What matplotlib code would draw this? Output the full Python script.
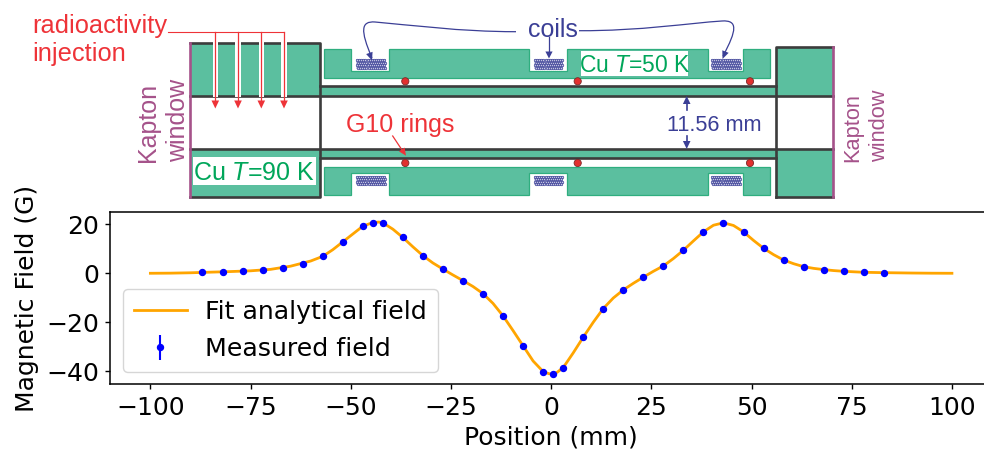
import numpy as np
import matplotlib
matplotlib.use("Agg")
import matplotlib.pyplot as plt
from matplotlib.patches import Rectangle, Polygon, PathPatch, Circle
from matplotlib.path import Path

plt.rcParams['mathtext.fontset'] = 'custom'
plt.rcParams['mathtext.it'] = 'Liberation Sans:italic'
plt.rcParams['mathtext.rm'] = 'Liberation Sans'

# Measured field
meas_x = [-87, -82, -77, -72, -67, -62, -57, -52, -47, -44.5, -42, -37, -32, -27, -22, -17, -12, -7, -2, 0.5,
          3, 8, 13, 18, 23, 28, 33, 38, 43, 48, 53, 58, 63, 68, 73, 78, 83]
meas_y = [0.4, 0.54, 0.82, 1.22, 2.04, 3.67, 6.94, 12.8, 19.2, 20.7, 20.4, 14.6, 7.2, 1.63, -3.0, -8.3, -17.4, -29.6, -40.2, -41.1,
          -38.5, -26.1, -14.4, -6.8, -1.63, 3.0, 9.4, 16.9, 20.5, 16.9, 10.2, 5.44, 2.72, 1.5, 0.82, 0.41, 0.27]
meas_err = [0.3] * len(meas_x)

# Fit analytical field
fit_x = [-100, -95, -90, -85, -80, -75, -70, -65, -60, -57, -54.5, -52, -49.5, -47, -44.5, -43, -42, -39.5, -37, -34.5,
         -32, -29.5, -27, -24.5, -22, -19.5, -17, -14.5, -12, -9.5, -7, -4.5, -2, -0.5, 0.5, 1.5, 3, 5.5, 8, 10.5,
         13, 15.5, 18, 20.5, 23, 25.5, 28, 30.5, 33, 35.5, 38, 40.5, 43, 45.5, 48, 50.5, 53, 55.5, 58, 60.5,
         63, 65.5, 68, 70.5, 73, 75.5, 78, 83, 90, 95, 100]
fit_y = [0, 0.05, 0.2, 0.45, 0.7, 1.0, 1.6, 2.9, 5.0, 6.9, 9.6, 12.8, 16, 19.2, 20.7, 20.9, 20.6, 18, 14.6, 10.8,
         7.2, 4.2, 1.7, -0.7, -3, -5.4, -8.3, -12.3, -17.4, -23.4, -29.6, -35.8, -40.1, -41, -41.1, -40.4, -38.5, -32.5, -26.1, -20,
         -14.4, -10.1, -6.8, -4.1, -1.6, 0.8, 3, 6, 9.4, 13.2, 16.9, 19.6, 20.6, 19.5, 16.9, 13.4, 10.2, 7.6, 5.4, 3.9,
         2.7, 2.0, 1.5, 1.1, 0.8, 0.6, 0.4, 0.25, 0.1, 0.03, 0]

W, H = 984, 449
fig = plt.figure(figsize=(W / 100, H / 100), dpi=100)

# ---------------- field plot ----------------
ax = fig.add_axes([110.3 / W, (H - 384.3) / H, (992 - 110.3) / W, (384.3 - 212) / H])
ax.plot(fit_x, fit_y, color='orange', lw=2, label='Fit analytical field', zorder=2)
ax.errorbar(meas_x, meas_y, yerr=meas_err, fmt='o', color='blue', ms=4.3, elinewidth=1.5,
            label='Measured field', zorder=3)
ax.set_xlim(-110, 110)
ax.set_ylim(-45.3, 25)
ax.set_xticks([-100, -75, -50, -25, 0, 25, 50, 75, 100])
ax.set_yticks([-40, -20, 0, 20])
ax.tick_params(labelsize=18, length=3.6, width=1, pad=4.5)
for s in ax.spines.values():
    s.set_linewidth(1.1)
ax.set_xlabel('Position (mm)', fontsize=18, labelpad=4.2)
ax.set_ylabel('Magnetic Field (G)', fontsize=18)
ax.yaxis.set_label_coords(-0.0805, 0.5)
ax.legend(loc='lower left', fontsize=18.2, bbox_to_anchor=(123.3 / W, (H - 371.7) / H),
          bbox_transform=fig.transFigure, borderaxespad=0, borderpad=0.42, handlelength=2.1,
          handletextpad=0.72, labelspacing=0.52, framealpha=0.8)

# ---------------- schematic overlay in pixel space ----------------
sc = fig.add_axes([0, 0, 1, 1], zorder=5)
sc.set_xlim(0, W)
sc.set_ylim(H, 0)
sc.axis('off')
sc.patch.set_alpha(0)

GREEN = '#5BBF9F'
GEDGE = '#2FAE7F'
DARK = '#3C3C3C'
KAPTON = '#A5528A'
RED = '#EE3338'
NAVY = '#3B3F96'
TGREEN = '#00A65A'
FONT = 'Liberation Sans'


def rect(x0, y0, x1, y1, fc, ec='none', lw=0, z=1):
    sc.add_patch(Rectangle((x0, y0), x1 - x0, y1 - y0, fc=fc, ec=ec, lw=lw, zorder=z))


def line(xs, ys, color=DARK, lw=1.9, z=4):
    sc.plot(xs, ys, color=color, lw=lw, zorder=z, solid_capstyle='projecting')


def head(tx, ty, dx, dy, color, size=7, width=3.6, z=7):
    n = np.hypot(dx, dy)
    dx, dy = dx / n, dy / n
    px, py = -dy, dx
    sc.add_patch(Polygon([(tx, ty), (tx - dx * size + px * width, ty - dy * size + py * width),
                          (tx - dx * size - px * width, ty - dy * size - py * width)],
                         fc=color, ec='none', zorder=z))


# end blocks
rect(189.5, 43.3, 319.5, 95.7, GREEN)
rect(189.5, 149, 319.5, 196.7, GREEN)
rect(776, 47.3, 833.3, 95.7, GREEN)
rect(776, 149, 833.3, 196.7, GREEN)

# tube walls
rect(319.5, 86, 776, 95.7, GREEN)
rect(319.5, 149, 776, 158.3, GREEN)

# cold body with notches
notches = [(350.7, 388.7), (529.3, 567.3), (708, 742.7)]
xl, xr = 324, 770
for ytop, ybot, ynotch, from_top in [(49.3, 77.7, 70.7, True), (166.7, 195, 173.3, False)]:
    edge_y = ytop if from_top else ybot
    far_y = ybot if from_top else ytop
    pts = [(xl, far_y), (xl, edge_y)]
    for a, b in notches:
        pts += [(a, edge_y), (a, ynotch), (b, ynotch), (b, edge_y)]
    pts += [(xr, edge_y), (xr, far_y)]
    sc.add_patch(Polygon(pts, closed=True, fc=GREEN, ec=GEDGE, lw=0.9, zorder=2))

# dark outlines
line([189.5, 319.5, 319.5, 189.5], [43.3, 43.3, 196.7, 196.7])
for y in (86, 158.3):
    line([319.5, 776], [y, y])
for y in (95.7, 149):
    line([189.5, 833.3], [y, y])
line([776, 776, 833.3], [196.7, 47.3, 47.3])
line([776, 833.3], [196.7, 196.7])
line([189.5, 189.5], [43.3, 196.7], color=KAPTON, lw=1.9, z=5)
line([833.3, 833.3], [47.3, 196.7], color=KAPTON, lw=1.9, z=5)

# radioactivity arrows
arrow_xs = [215.3, 238, 261.3, 284]
for x in arrow_xs:
    rect(x - 2.8, 42, x + 2.8, 97, 'white', z=5)
    line([x, x], [31.7, 102], color=RED, lw=0.9, z=6)
    head(x, 108.5, 0, 1, RED, size=8, width=3.8)
line([168, 284], [31.7, 31.7], color=RED, lw=0.8, z=6)

# coils: small dot grids
coil_x = [(356, 386), (534, 563.3), (711, 740.7)]
coil_y = [(59, 69), (175.5, 185)]
for x0, x1 in coil_x:
    for y0, y1 in coil_y:
        rect(x0, y0, x1, y1, '#C9CBE6', z=3)
        for j, yy in enumerate(np.linspace(y0 + 1, y1 - 1, 4)):
            xs = np.arange(x0 + 1 + (j % 2), x1, 2.1)
            sc.scatter(xs, [yy] * len(xs), s=3.2, facecolor='#C9CBE6', edgecolor=NAVY, linewidth=0.5, zorder=4)

# G10 rings
for x in (405.3, 577.7, 750):
    for y in (81.3, 163):
        sc.add_patch(Circle((x, y), 3.6, fc='#E2302F', ec='#7A2A2A', lw=0.6, zorder=6))

# white label boxes
rect(581, 51, 688.3, 76, 'white', z=3)
rect(192.7, 156.7, 315.7, 185, 'white', z=3)

# curved leaders
codes = [Path.MOVETO, Path.CURVE4, Path.CURVE4, Path.CURVE4, Path.CURVE4, Path.CURVE4, Path.CURVE4]
left = Path([(516, 31.7), (460, 31.7), (410, 25), (375, 22), (361, 21), (360, 30), (372, 58)], codes)
right = Path([(579, 30.7), (640, 31), (690, 23), (722, 21), (738, 20), (737, 30), (723, 56)], codes)
for p in (left, right):
    sc.add_patch(PathPatch(p, fc='none', ec=NAVY, lw=0.9, zorder=7))
head(372, 60.5, 0.35, 1, NAVY, size=8, width=3.4)
head(722.5, 59, -0.4, 1, NAVY, size=8, width=3.4)
line([549, 549], [36.7, 52], color=NAVY, lw=0.9, z=7)
head(549, 58.5, 0, 1, NAVY, size=7, width=3.6)

# dimension arrows
line([686.7, 686.7], [100, 110], color=NAVY, lw=1.2, z=7)
head(686.7, 96, 0, -1, NAVY, size=8, width=3.8)
line([686.7, 686.7], [136, 144], color=NAVY, lw=1.2, z=7)
head(686.7, 149, 0, 1, NAVY, size=8, width=3.8)

# G10 leader
line([392.7, 402], [136, 150], color=RED, lw=0.9, z=7)
head(406, 155.7, 13.3, 19.7, RED, size=7.5, width=3.4)

# texts
kw = dict(family=FONT, zorder=9)
sc.text(32, 33, 'radioactivity', color=RED, fontsize=18.3, ha='left', va='baseline', **kw)
sc.text(32, 61, 'injection', color=RED, fontsize=18.3, ha='left', va='baseline', **kw)
sc.text(553, 37, 'coils', color=NAVY, fontsize=18, ha='center', va='baseline', **kw)
sc.text(400, 131.7, 'G10 rings', color=RED, fontsize=18, ha='center', va='baseline', **kw)
sc.text(713.8, 131, '11.56 mm', color=NAVY, fontsize=15.7, ha='center', va='baseline', **kw)
sc.text(634.6, 72.5, 'Cu $T$=50 K', color=TGREEN, fontsize=16.5, ha='center', va='baseline', **kw)
sc.text(254.2, 179.5, 'Cu $T$=90 K', color=TGREEN, fontsize=18, ha='center', va='baseline', **kw)
sc.text(160.5, 161.7, 'Kapton', color=KAPTON, fontsize=18, rotation=90, ha='right', va='bottom', **kw)
sc.text(190, 161.7, 'window', color=KAPTON, fontsize=18, rotation=90, ha='right', va='bottom', **kw)
sc.text(863, 161.7, 'Kapton', color=KAPTON, fontsize=15.7, rotation=90, ha='right', va='bottom', **kw)
sc.text(890, 161.7, 'window', color=KAPTON, fontsize=15.7, rotation=90, ha='right', va='bottom', **kw)

fig.savefig('out.png', dpi=100)
